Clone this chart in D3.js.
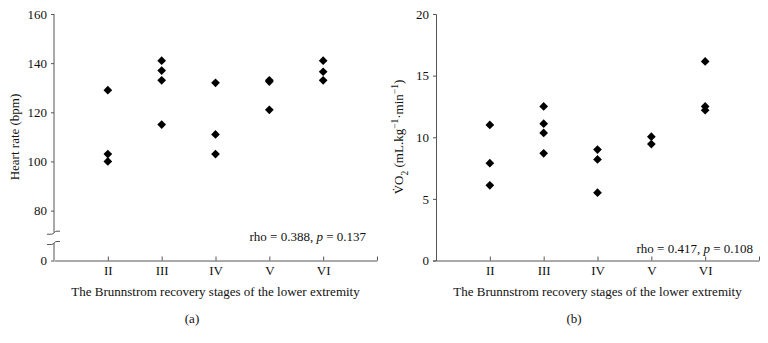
<!DOCTYPE html>
<html>
<head>
<meta charset="utf-8">
<script src="https://cdn.jsdelivr.net/npm/d3@7"></script>
<style>
  body { margin: 0; background: #fff; }
  svg { display: block; font-family: "Liberation Serif", "DejaVu Serif", serif; }
  .axis path, .axis line { stroke: #555; }
  .axis text { fill: #111; font-size: 13px; font-family: "Liberation Serif", serif; }
</style>
</head>
<body>
<div id="chart"></div>
<script>
// stages on the x axis
var stages = ["II", "III", "IV", "V", "VI"];
var heartRate = [
    [129, 103, 100],
    [141, 137, 133, 115],
    [132, 111, 103],
    [133, 132.5, 121],
    [141, 136.5, 133]
];
var vo2 = [
    [11.0, 7.9, 6.1],
    [12.5, 11.1, 10.35, 8.7],
    [9.0, 8.2, 5.5],
    [10.05, 9.45],
    [16.15, 12.5, 12.2]
];
var hrTicks = [0, 80, 100, 120, 140, 160];
var vo2Ticks = [0, 5, 10, 15, 20];

var width = 768, height = 343;
var svg = d3.select("#chart").append("svg")
    .attr("width", width)
    .attr("height", height);

var top0 = 14, base = 260.5;
var fs = "13px";
var diamond = d3.symbol().type(d3.symbolSquare).size(38);

function flatten(arr){
    var out = [];
    arr.forEach(function(vals, i){
        vals.forEach(function(v){ out.push({stage: i + 1, value: v}); });
    });
    return out;
}

function panel(opts){
    var x = d3.scaleLinear().domain([0, 6]).range([opts.left, opts.left + 323]);
    var y = opts.y;
    var g = svg.append("g");

    // x axis, ticks pointing up, last one is the end tick
    var xAxis = d3.axisBottom(x)
        .tickValues([1, 2, 3, 4, 5, 6])
        .tickFormat(function(d){ return d <= 5 ? stages[d - 1] : ""; })
        .tickSizeInner(-4)
        .tickSizeOuter(0)
        .tickPadding(5);
    g.append("g").attr("class", "axis")
        .attr("transform", "translate(0," + base + ")")
        .call(xAxis);

    // y axis
    var yAxis = d3.axisLeft(y)
        .tickValues(opts.ticks)
        .tickSize(3)
        .tickPadding(4);
    var ya = g.append("g").attr("class", "axis")
        .attr("transform", "translate(" + opts.left + ",0)")
        .call(yAxis);

    if (opts.broken) {
        ya.select(".domain").remove();
        var yBreakTop = y(71), yBreakBot = y(66) - 2;
        ya.append("line").attr("x1", 0).attr("x2", 0)
            .attr("y1", y(160)).attr("y2", yBreakTop).attr("stroke", "#555");
        ya.append("line").attr("x1", 0).attr("x2", 0)
            .attr("y1", yBreakBot).attr("y2", base).attr("stroke", "#555");
        [yBreakTop, yBreakBot].forEach(function(yy){
            ya.append("path")
                .attr("d", "M-7,1.5 L-2.5,1.5 Q-0.5,1.5 0.5,-0.5 Q1.5,-1.5 3,-1.5 L6,-1.5")
                .attr("transform", "translate(0," + yy + ")")
                .attr("fill", "none")
                .attr("stroke", "#555");
        });
    }

    // points
    g.selectAll(".pt")
        .data(flatten(opts.data))
        .enter().append("path")
        .attr("class", "pt")
        .attr("d", diamond)
        .attr("transform", function(d){
            return "translate(" + x(d.stage) + "," + y(d.value) + ") rotate(45)";
        })
        .attr("fill", "#000");

    // stats note
    var note = g.append("text")
        .attr("x", opts.noteX)
        .attr("y", opts.noteY)
        .attr("text-anchor", "end")
        .style("font-size", fs)
        .attr("fill", "#111");
    note.append("tspan").text(opts.rho + ", ");
    note.append("tspan").style("font-style", "italic").text("p");
    note.append("tspan").text(" = " + opts.p);

    // x label
    g.append("text")
        .attr("x", x(3))
        .attr("y", 296)
        .attr("text-anchor", "middle")
        .style("font-size", fs)
        .attr("fill", "#111")
        .text("The Brunnstrom recovery stages of the lower extremity");

    g.append("text")
        .attr("x", opts.left + 138)
        .attr("y", 323)
        .attr("text-anchor", "middle")
        .style("font-size", fs)
        .attr("fill", "#111")
        .text(opts.caption);

    return g;
}

var yL = d3.scaleLinear().domain([0, 66, 160]).range([base, 245, top0]);
var gL = panel({left: 54, y: yL, ticks: hrTicks, data: heartRate, broken: true,
    rho: "rho = 0.388", p: "0.137", noteX: 366, noteY: 241, caption: "(a)"});

gL.append("text")
    .attr("transform", "translate(19,137) rotate(-90)")
    .attr("text-anchor", "middle")
    .style("font-size", fs)
    .attr("fill", "#111")
    .text("Heart rate (bpm)");

var yR = d3.scaleLinear().domain([0, 20]).range([base, top0]);
var gR = panel({left: 436, y: yR, ticks: vo2Ticks, data: vo2, broken: false,
    rho: "rho = 0.417", p: "0.108", noteX: 753, noteY: 253, caption: "(b)"});

var lab = gR.append("text")
    .attr("transform", "translate(403,137) rotate(-90)")
    .attr("text-anchor", "middle")
    .style("font-size", fs)
    .attr("fill", "#111");
lab.append("tspan").text("V\u0307O");
lab.append("tspan").attr("baseline-shift", "sub").style("font-size", "9.5px").text("2");
lab.append("tspan").text(" (mL.kg");
lab.append("tspan").attr("baseline-shift", "super").style("font-size", "9.5px").text("\u22121");
lab.append("tspan").text("\u00B7min");
lab.append("tspan").attr("baseline-shift", "super").style("font-size", "9.5px").text("\u22121");
lab.append("tspan").text(")");
</script>
</body>
</html>
